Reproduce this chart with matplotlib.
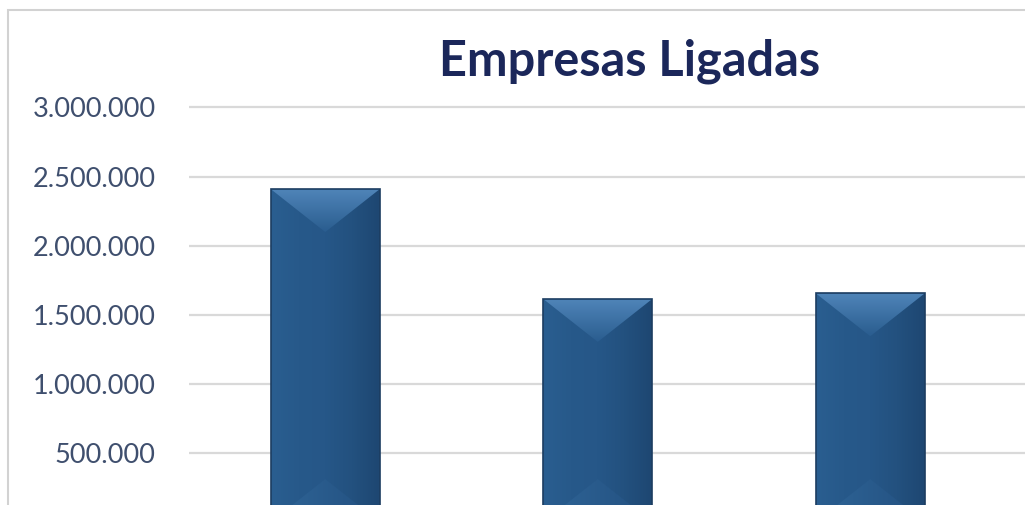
import numpy as np
import matplotlib.pyplot as plt
from matplotlib.patches import Polygon, Rectangle
from matplotlib.colors import LinearSegmentedColormap

# Data (category names are cut off in the reference)
categories = ['Empresa 1', 'Empresa 2', 'Empresa 3']
values = [2409000, 1614000, 1655000]
# the 0 line lies below the visible area, so it carries no label
yticks = [500000, 1000000, 1500000, 2000000, 2500000, 3000000]

W, H = 1025, 505
fig = plt.figure(figsize=(W / 100, H / 100), dpi=100)

# the plot runs past the right and bottom edges of the picture
ax = fig.add_axes([189 / W, -17 / H, 836 / W, 421.5 / H])
x = np.arange(len(categories))
xlim = (-0.5, -0.5 + 836 / 272.5)
ylim = (0, 3050000)

bars = ax.bar(x, values, width=0.4, color='#26578a', linewidth=0, zorder=2)

px_y = ax.bbox.height / (ylim[1] - ylim[0])
bev_y = 43 / px_y

face_cmap = LinearSegmentedColormap.from_list(
    'face', ['#2a5e90', '#27598a', '#265788', '#23517f', '#1e4772'])
top_cmap = LinearSegmentedColormap.from_list('top', ['#2a5d8f', '#4f84b8'])
bot_cmap = LinearSegmentedColormap.from_list('bot', ['#2f6597', '#235080'])

for rect in bars:
    x0 = rect.get_x()
    w = rect.get_width()
    h = rect.get_height()
    x1 = x0 + w
    xc = x0 + w / 2

    # face with a soft left-to-right shading
    grad = np.linspace(0, 1, 64).reshape(1, -1)
    im = ax.imshow(grad, cmap=face_cmap, extent=(x0, x1, 0, h), aspect='auto',
                   origin='lower', zorder=2.2, interpolation='bicubic')
    im.set_clip_path(rect)

    # lighter top bevel
    top = Polygon([(x0, h), (x1, h), (xc, h - bev_y)],
                  closed=True, facecolor='none', edgecolor='none', zorder=2.4)
    ax.add_patch(top)
    vgrad = np.linspace(0, 1, 64).reshape(-1, 1)
    im2 = ax.imshow(vgrad, cmap=top_cmap, extent=(x0, x1, h - bev_y, h), aspect='auto',
                    origin='lower', zorder=2.4, interpolation='bicubic')
    im2.set_clip_path(top)

    # bottom bevel
    bot = Polygon([(x0, 0), (x1, 0), (xc, bev_y)],
                  closed=True, facecolor='none', edgecolor='none', zorder=2.4)
    ax.add_patch(bot)
    im3 = ax.imshow(grad, cmap=bot_cmap, extent=(x0, x1, 0, bev_y), aspect='auto',
                    origin='lower', zorder=2.4, interpolation='bicubic')
    im3.set_clip_path(bot)

    ax.add_patch(Rectangle((x0, 0), w, h, fill=False, edgecolor='#1c3d61',
                           linewidth=1.2, zorder=3))

ax.set_xlim(*xlim)
ax.set_ylim(*ylim)
ax.set_xticks(x, categories)
ax.tick_params(axis='x', length=0, labelbottom=False)
ax.set_yticks(yticks)
ax.set_yticklabels([f'{v:,}'.replace(',', '.') for v in yticks],
                   fontfamily='Lato', fontsize=19.5, color='#3f4f6e')
ax.tick_params(axis='y', length=0, pad=24)
ax.yaxis.grid(True, color='#d9d9d9', linewidth=1.6)
ax.set_axisbelow(True)
for s in ax.spines.values():
    s.set_visible(False)

# chart frame, open at the right and bottom
fig.patches.append(Rectangle((8 / W, -0.2), 1.2, (H - 10) / H + 0.2,
                             transform=fig.transFigure, fill=False,
                             edgecolor='#d2d2d2', linewidth=1.5))

fig.text(629.5 / W, (H - 76) / H, 'Empresas Ligadas', fontfamily='Lato',
         fontweight='bold', fontsize=35, color='#1b275a', ha='center', va='baseline')

fig.savefig('out.png', dpi=100)
